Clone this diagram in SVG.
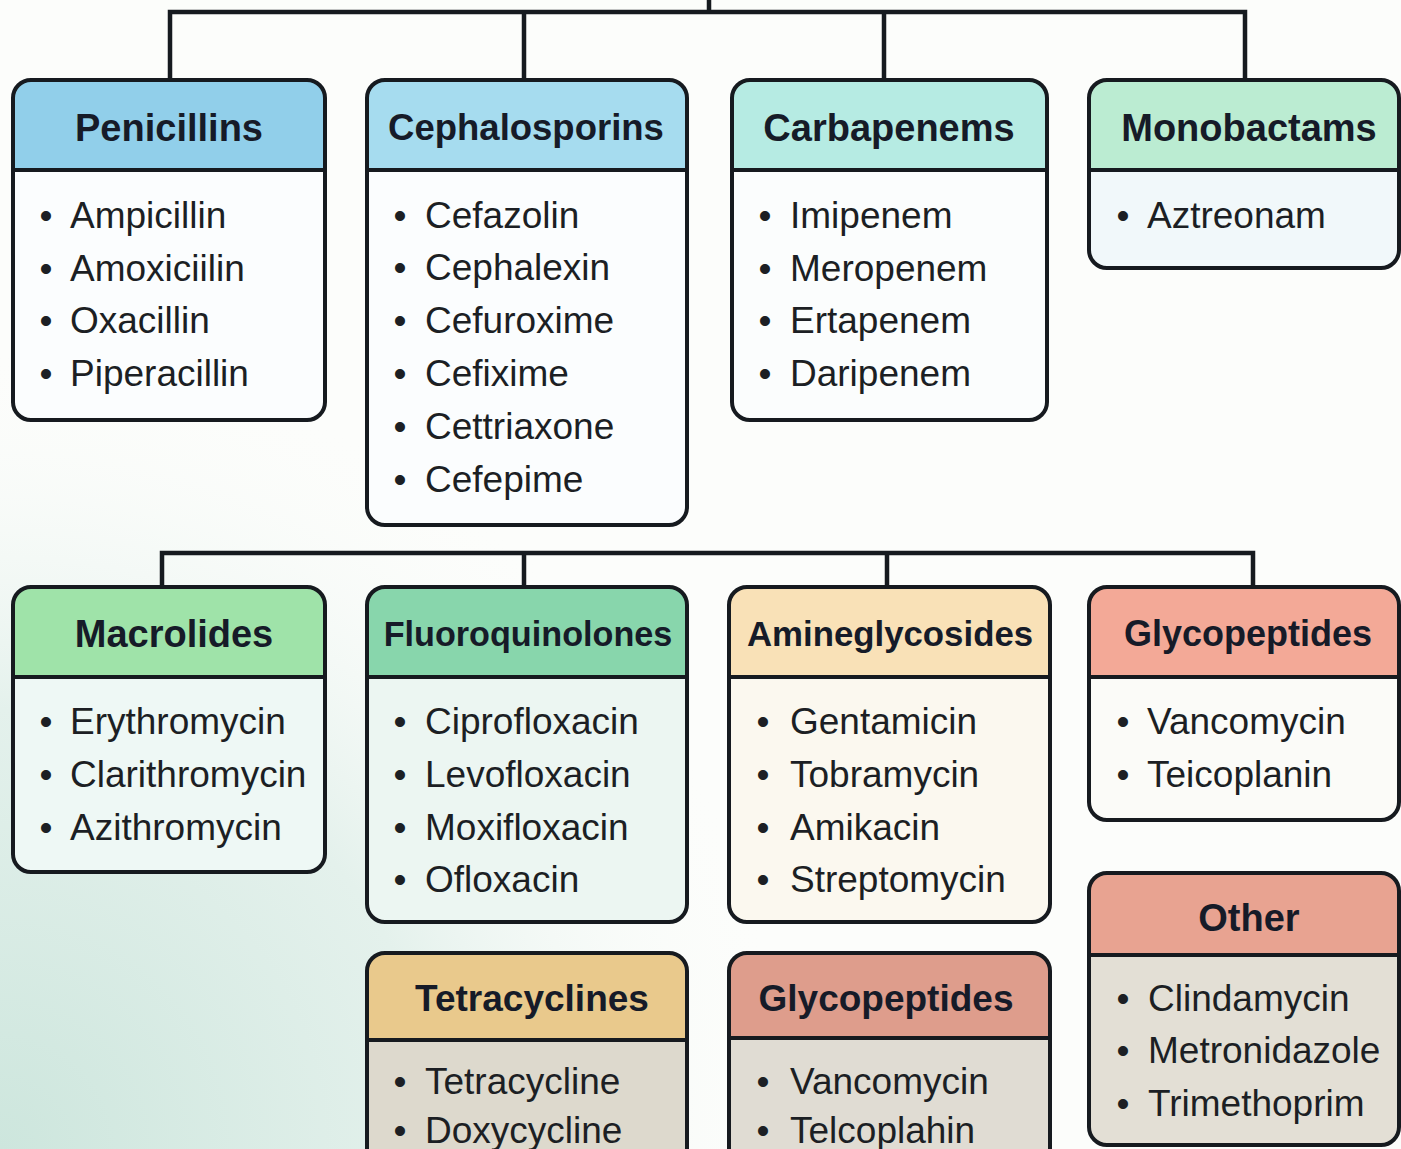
<svg xmlns="http://www.w3.org/2000/svg" width="1401" height="1149" viewBox="0 0 1401 1149">
<defs>
<radialGradient id="bgGlow" cx="0" cy="1149" r="800" gradientUnits="userSpaceOnUse">
<stop offset="0" stop-color="#cde6dd"/>
<stop offset="0.55" stop-color="#e4f1ec"/>
<stop offset="1" stop-color="#fcfdfb" stop-opacity="0"/>
</radialGradient>
<style>
.outline{fill:none;stroke:#161a1f;stroke-width:4}
.sep{stroke:#161a1f;stroke-width:4}
.conn{fill:none;stroke:#161a1f;stroke-width:4.5}
.h{font-family:"Liberation Sans",Arial,sans-serif;font-weight:bold;fill:#161b28;text-anchor:middle}
.t{font-family:"Liberation Sans",Arial,sans-serif;font-size:37px;fill:#1c1f24}
.b{font-family:"Liberation Sans",Arial,sans-serif;font-size:37px;fill:#1c1f24;text-anchor:middle}
</style>
</defs>
<rect width="1401" height="1149" fill="#fcfdfb"/>
<rect width="1401" height="1149" fill="url(#bgGlow)"/>

<g id="connectors">
<path class="conn" d="M709,0 V12 M170,80 V12 H1245 V80 M524,12 V80 M884,12 V80"/>
<path class="conn" d="M162,587 V553 H1253 V587 M524,553 V587 M887,553 V587"/>
</g>

<g id="penicillins">
<rect x="13" y="80" width="312" height="340" rx="18" fill="#fbfdfe"/>
<path d="M13,170 V98 Q13,80 31,80 H307 Q325,80 325,98 V170 Z" fill="#91cfea"/>
<line class="sep" x1="13" y1="170" x2="325" y2="170"/>
<rect class="outline" x="13" y="80" width="312" height="340" rx="18"/>
<text class="h" x="169" y="141" style="font-size:38px">Penicillins</text>
<text class="b" x="46" y="228">•</text><text class="t" x="70" y="228">Ampicillin</text>
<text class="b" x="46" y="281">•</text><text class="t" x="70" y="281">Amoxiciilin</text>
<text class="b" x="46" y="333">•</text><text class="t" x="70" y="333">Oxacillin</text>
<text class="b" x="46" y="386">•</text><text class="t" x="70" y="386">Piperacillin</text>
</g>

<g id="cephalosporins">
<rect x="367" y="80" width="320" height="445" rx="18" fill="#fbfdfe"/>
<path d="M367,170 V98 Q367,80 385,80 H669 Q687,80 687,98 V170 Z" fill="#a6dcef"/>
<line class="sep" x1="367" y1="170" x2="687" y2="170"/>
<rect class="outline" x="367" y="80" width="320" height="445" rx="18"/>
<text class="h" x="526" y="140" style="font-size:36.5px">Cephalosporins</text>
<text class="b" x="400" y="228">•</text><text class="t" x="425" y="228">Cefazolin</text>
<text class="b" x="400" y="280">•</text><text class="t" x="425" y="280">Cephalexin</text>
<text class="b" x="400" y="333">•</text><text class="t" x="425" y="333">Cefuroxime</text>
<text class="b" x="400" y="386">•</text><text class="t" x="425" y="386">Cefixime</text>
<text class="b" x="400" y="439">•</text><text class="t" x="425" y="439">Cettriaxone</text>
<text class="b" x="400" y="492">•</text><text class="t" x="425" y="492">Cefepime</text>
</g>

<g id="carbapenems">
<rect x="732" y="80" width="315" height="340" rx="18" fill="#fbfdfd"/>
<path d="M732,170 V98 Q732,80 750,80 H1029 Q1047,80 1047,98 V170 Z" fill="#b6ebe3"/>
<line class="sep" x1="732" y1="170" x2="1047" y2="170"/>
<rect class="outline" x="732" y="80" width="315" height="340" rx="18"/>
<text class="h" x="889" y="141" style="font-size:38px">Carbapenems</text>
<text class="b" x="765" y="228">•</text><text class="t" x="790" y="228">Imipenem</text>
<text class="b" x="765" y="281">•</text><text class="t" x="790" y="281">Meropenem</text>
<text class="b" x="765" y="333">•</text><text class="t" x="790" y="333">Ertapenem</text>
<text class="b" x="765" y="386">•</text><text class="t" x="790" y="386">Daripenem</text>
</g>

<g id="monobactams">
<rect x="1089" y="80" width="310" height="188" rx="18" fill="#f1f8fa"/>
<path d="M1089,170 V98 Q1089,80 1107,80 H1381 Q1399,80 1399,98 V170 Z" fill="#bbecd2"/>
<line class="sep" x1="1089" y1="170" x2="1399" y2="170"/>
<rect class="outline" x="1089" y="80" width="310" height="188" rx="18"/>
<text class="h" x="1249" y="141" style="font-size:38px">Monobactams</text>
<text class="b" x="1123" y="228">•</text><text class="t" x="1147" y="228">Aztreonam</text>
</g>

<g id="macrolides">
<rect x="13" y="587" width="312" height="285" rx="18" fill="#eef8f5"/>
<path d="M13,677 V605 Q13,587 31,587 H307 Q325,587 325,605 V677 Z" fill="#9fe3a9"/>
<line class="sep" x1="13" y1="677" x2="325" y2="677"/>
<rect class="outline" x="13" y="587" width="312" height="285" rx="18"/>
<text class="h" x="174" y="647" style="font-size:38px">Macrolides</text>
<text class="b" x="46" y="734">•</text><text class="t" x="70" y="734">Erythromycin</text>
<text class="b" x="46" y="787">•</text><text class="t" x="70" y="787">Clarithromycin</text>
<text class="b" x="46" y="840">•</text><text class="t" x="70" y="840">Azithromycin</text>
</g>

<g id="fluoroquinolones">
<rect x="367" y="587" width="320" height="335" rx="18" fill="#ecf6f2"/>
<path d="M367,677 V605 Q367,587 385,587 H669 Q687,587 687,605 V677 Z" fill="#88d6ac"/>
<line class="sep" x1="367" y1="677" x2="687" y2="677"/>
<rect class="outline" x="367" y="587" width="320" height="335" rx="18"/>
<text class="h" x="528" y="646" style="font-size:34.2px">Fluoroquinolones</text>
<text class="b" x="400" y="734">•</text><text class="t" x="425" y="734">Ciprofloxacin</text>
<text class="b" x="400" y="787">•</text><text class="t" x="425" y="787">Levofloxacin</text>
<text class="b" x="400" y="840">•</text><text class="t" x="425" y="840">Moxifloxacin</text>
<text class="b" x="400" y="892">•</text><text class="t" x="425" y="892">Ofloxacin</text>
</g>

<g id="amineglycosides">
<rect x="729" y="587" width="321" height="335" rx="18" fill="#fbf8ef"/>
<path d="M729,677 V605 Q729,587 747,587 H1032 Q1050,587 1050,605 V677 Z" fill="#f9e1b7"/>
<line class="sep" x1="729" y1="677" x2="1050" y2="677"/>
<rect class="outline" x="729" y="587" width="321" height="335" rx="18"/>
<text class="h" x="890" y="646" style="font-size:34.8px">Amineglycosides</text>
<text class="b" x="763" y="734">•</text><text class="t" x="790" y="734">Gentamicin</text>
<text class="b" x="763" y="787">•</text><text class="t" x="790" y="787">Tobramycin</text>
<text class="b" x="763" y="840">•</text><text class="t" x="790" y="840">Amikacin</text>
<text class="b" x="763" y="892">•</text><text class="t" x="790" y="892">Streptomycin</text>
</g>

<g id="glycopeptides">
<rect x="1089" y="587" width="310" height="233" rx="18" fill="#fbfbf8"/>
<path d="M1089,677 V605 Q1089,587 1107,587 H1381 Q1399,587 1399,605 V677 Z" fill="#f3a997"/>
<line class="sep" x1="1089" y1="677" x2="1399" y2="677"/>
<rect class="outline" x="1089" y="587" width="310" height="233" rx="18"/>
<text class="h" x="1248" y="646" style="font-size:36px">Glycopeptides</text>
<text class="b" x="1123" y="734">•</text><text class="t" x="1147" y="734">Vancomycin</text>
<text class="b" x="1123" y="787">•</text><text class="t" x="1147" y="787">Teicoplanin</text>
</g>

<g id="other">
<rect x="1089" y="873" width="310" height="272" rx="18" fill="#e3dfd5"/>
<path d="M1089,955 V891 Q1089,873 1107,873 H1381 Q1399,873 1399,891 V955 Z" fill="#e8a391"/>
<line class="sep" x1="1089" y1="955" x2="1399" y2="955"/>
<rect class="outline" x="1089" y="873" width="310" height="272" rx="18"/>
<text class="h" x="1249" y="931" style="font-size:38px">Other</text>
<text class="b" x="1123" y="1011">•</text><text class="t" x="1148" y="1011">Clindamycin</text>
<text class="b" x="1123" y="1063">•</text><text class="t" x="1148" y="1063">Metronidazole</text>
<text class="b" x="1123" y="1116">•</text><text class="t" x="1148" y="1116">Trimethoprim</text>
</g>

<g id="tetracyclines">
<rect x="367" y="953" width="320" height="230" rx="18" fill="#ddd9cd"/>
<path d="M367,1040 V971 Q367,953 385,953 H669 Q687,953 687,971 V1040 Z" fill="#e9c98c"/>
<line class="sep" x1="367" y1="1040" x2="687" y2="1040"/>
<rect class="outline" x="367" y="953" width="320" height="230" rx="18"/>
<text class="h" x="532" y="1011" style="font-size:37px">Tetracyclines</text>
<text class="b" x="400" y="1094">•</text><text class="t" x="425" y="1094">Tetracycline</text>
<text class="b" x="400" y="1143">•</text><text class="t" x="425" y="1143">Doxycycline</text>
</g>

<g id="glycopeptides-2">
<rect x="729" y="953" width="321" height="230" rx="18" fill="#e0dcd3"/>
<path d="M729,1038 V971 Q729,953 747,953 H1032 Q1050,953 1050,971 V1038 Z" fill="#de9d8c"/>
<line class="sep" x1="729" y1="1038" x2="1050" y2="1038"/>
<rect class="outline" x="729" y="953" width="321" height="230" rx="18"/>
<text class="h" x="886" y="1011" style="font-size:37px">Glycopeptides</text>
<text class="b" x="763" y="1094">•</text><text class="t" x="790" y="1094">Vancomycin</text>
<text class="b" x="763" y="1143">•</text><text class="t" x="790" y="1143">Telcoplahin</text>
</g>
</svg>
